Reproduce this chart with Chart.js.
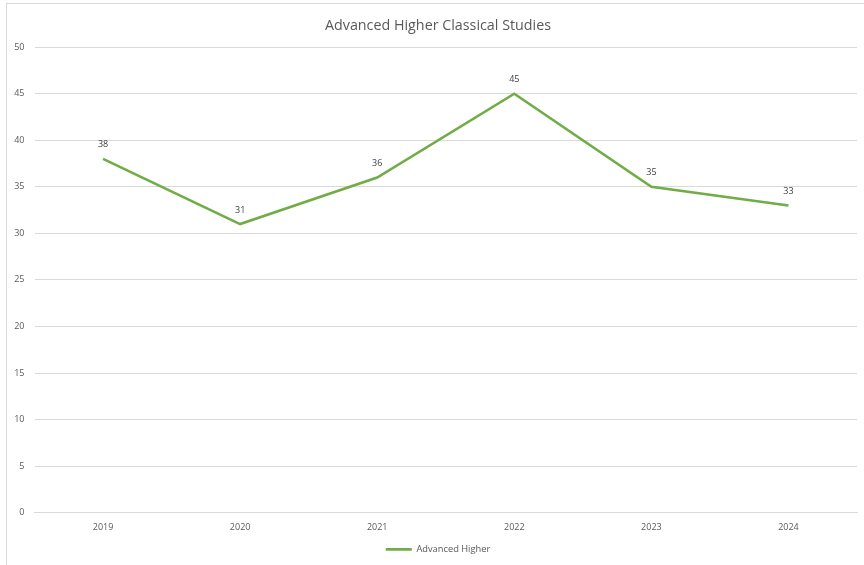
<!DOCTYPE html>
<html>
<head>
<meta charset="utf-8">
<script src="https://cdn.jsdelivr.net/npm/chart.js@4.4.1/dist/chart.umd.min.js"></script>
<style>
  html, body { margin: 0; padding: 0; background: #fff; }
  #wrap { position: relative; width: 864px; height: 565px; overflow: hidden; }
  #frame { position: absolute; left: 6px; top: 3px; width: 900px; height: 600px; border: 1px solid #d9d9d9; box-sizing: border-box; pointer-events: none; }
  canvas { position: absolute; left: 0; top: 0; }
</style>
</head>
<body>
<div id="wrap">
  <canvas id="chart" width="864" height="565"></canvas>
  <div id="frame"></div>
</div>
<script>
  // -- Data --------------------------------------------------------------
  const YEARS = ['2019', '2020', '2021', '2022', '2023', '2024'];
  const ADVANCED_HIGHER = [38, 31, 36, 45, 35, 33];
  const SERIES_LABEL = 'Advanced Higher';
  const CHART_TITLE = 'Advanced Higher Classical Studies';

  const GREEN = '#70ad47';
  const TEXT = '#595959';
  const GRID = '#d9d9d9';
  const FONT = '"Open Sans", "Noto Sans", sans-serif';

  // draws the value above each point, like Excel data labels
  const valueLabels = {
    id: 'valueLabels',
    afterDatasetsDraw(chart) {
      const ctx = chart.ctx;
      const meta = chart.getDatasetMeta(0);
      ctx.save();
      ctx.font = '9px ' + FONT;
      ctx.fillStyle = '#404040';
      ctx.textAlign = 'center';
      ctx.textBaseline = 'middle';
      meta.data.forEach(function (pt, i) {
        ctx.fillText(String(ADVANCED_HIGHER[i]), pt.x, pt.y - 14);
      });
      ctx.restore();
    }
  };

  // Excel centres title + legend a little right of the canvas middle;
  // nudge their boxes instead of padding (padding would clip the y labels)
  const nudgeBoxes = {
    id: 'nudgeBoxes',
    afterLayout(chart) {
      if (chart.titleBlock) chart.titleBlock.left += 19;
      if (chart.legend) chart.legend.left += 19;
    }
  };

  new Chart(document.getElementById('chart').getContext('2d'), {
    type: 'line',
    data: {
      labels: YEARS,
      datasets: [{
        label: SERIES_LABEL,
        data: ADVANCED_HIGHER,
        borderColor: GREEN,
        backgroundColor: GREEN,
        borderWidth: 2.6,
        pointRadius: 0,
        tension: 0,
        fill: false
      }]
    },
    options: {
      responsive: false,
      animation: false,
      layout: { padding: { left: 0, right: 7, top: 12, bottom: 1 } },
      plugins: {
        title: {
          display: true,
          text: CHART_TITLE,
          color: TEXT,
          font: { family: FONT, size: 14.3, weight: 'normal' },
          padding: { top: 5, bottom: 13 }
        },
        legend: {
          position: 'bottom',
          labels: {
            color: TEXT,
            font: { family: FONT, size: 9.3 },
            usePointStyle: true,
            pointStyle: 'line',
            pointStyleWidth: 26,
            boxHeight: 9,
            padding: 6
          }
        },
        tooltip: { enabled: false }
      },
      scales: {
        x: {
          offset: true,
          grid: { display: false, drawTicks: false },
          border: { color: GRID, width: 1 },
          ticks: { color: TEXT, font: { family: FONT, size: 9 }, padding: 9, maxRotation: 0 },
          afterFit: function (s) { s.height = 26; }
        },
        y: {
          min: 0,
          max: 50,
          ticks: { stepSize: 5, color: TEXT, font: { family: FONT, size: 9 }, padding: 10 },
          grid: { color: GRID, drawTicks: false },
          border: { display: false },
          afterFit: function (s) { s.width = 34.5; }
        }
      }
    },
    plugins: [valueLabels, nudgeBoxes]
  });
</script>
</body>
</html>
